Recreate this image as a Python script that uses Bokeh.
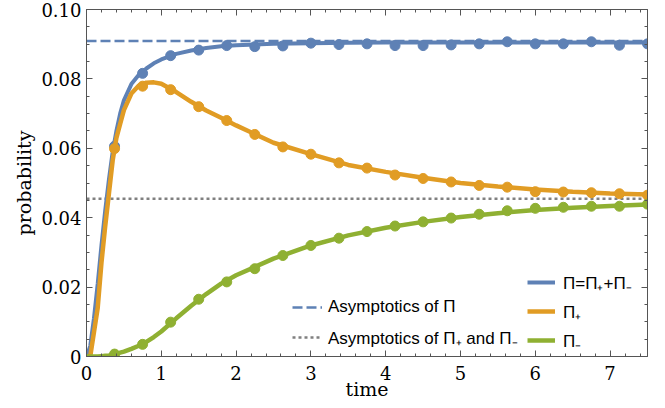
from bokeh.plotting import figure
from bokeh.models import (Range1d, FixedTicker, LinearAxis, Legend, LegendItem)
from bokeh.embed import file_html
from bokeh.resources import INLINE
import numpy as np

# ---- data ----
t_line = [0, 0.05, 0.1, 0.15, 0.2, 0.25, 0.3, 0.35, 0.4, 0.45, 0.5, 0.6, 0.7, 0.8, 0.9, 1.0,
          1.2, 1.4, 1.6, 1.8, 2.0, 2.5, 3.0, 3.5, 4.0, 4.5, 5.0, 5.5, 6.0, 6.5, 7.0, 7.5]
pi_total_line = [0, 0.003, 0.011, 0.021, 0.032, 0.042, 0.051, 0.059, 0.065, 0.070, 0.0738, 0.0785,
                 0.0812, 0.0830, 0.0845, 0.0856, 0.0872, 0.0882, 0.0889, 0.0894, 0.0897, 0.0901,
                 0.0903, 0.0904, 0.0905, 0.0905, 0.0905, 0.0905, 0.0905, 0.0905, 0.0905, 0.0905]
pi_plus_line = [0, 0.0, 0.007, 0.014, 0.027, 0.0375, 0.047, 0.0565, 0.063, 0.067, 0.071, 0.0758,
                0.0781, 0.0789, 0.0790, 0.0786, 0.0762, 0.0734, 0.0709, 0.0688, 0.0666, 0.0616,
                0.0583, 0.0552, 0.0532, 0.0515, 0.0500, 0.0490, 0.0481, 0.0475, 0.0470, 0.0467]
pi_minus_line = [0, 0, 0, 0, 0.0001, 0.0002, 0.0003, 0.0005, 0.0008, 0.0011, 0.0014, 0.0022,
                 0.0031, 0.0042, 0.0056, 0.0072, 0.0110, 0.0146, 0.0180, 0.0210, 0.0234, 0.0282,
                 0.0320, 0.0349, 0.0371, 0.0388, 0.0402, 0.0413, 0.0422, 0.0429, 0.0434, 0.0438]

t_pts = [0.375, 0.75, 1.125, 1.5, 1.875, 2.25, 2.625, 3.0, 3.375, 3.75, 4.125, 4.5, 4.875,
         5.25, 5.625, 6.0, 6.375, 6.75, 7.125, 7.5]
pi_total_pts = [0.0606, 0.0816, 0.0867, 0.0883, 0.0896, 0.0893, 0.0895, 0.0903, 0.0899, 0.0901,
                0.0896, 0.0896, 0.0898, 0.0901, 0.0907, 0.0901, 0.0901, 0.0907, 0.0897, 0.0901]
pi_plus_pts = [0.0599, 0.0779, 0.0769, 0.0720, 0.0680, 0.0640, 0.0604, 0.0583, 0.0558, 0.0543,
               0.0523, 0.0513, 0.0503, 0.0493, 0.0488, 0.0475, 0.0474, 0.0472, 0.0469, 0.0465]
pi_minus_pts = [0.0007, 0.0035, 0.0099, 0.0165, 0.0215, 0.0253, 0.0291, 0.0320, 0.0341, 0.0360,
                0.0376, 0.0388, 0.0399, 0.0410, 0.0420, 0.0427, 0.0430, 0.0433, 0.0433, 0.0439]

asym_total = 0.0909
asym_each = 0.04545
x_span = [0, 7.5]

x_ticks = [0, 1, 2, 3, 4, 5, 6, 7]
y_ticks = [0, 0.02, 0.04, 0.06, 0.08, 0.10]
y_tick_labels = ["0", "0.02", "0.04", "0.06", "0.08", "0.10"]

labels_right = ["\u03a0=\u03a0\u208a+\u03a0\u208b", "\u03a0\u208a", "\u03a0\u208b"]
labels_left = ["Asymptotics of \u03a0", "Asymptotics of \u03a0\u208a and \u03a0\u208b"]

BLUE = "#5E81B5"
ORANGE = "#E19C24"
GREEN = "#8FB032"
GRAY = "#808080"
AX = "#555555"

p = figure(width=655, height=404, output_backend="svg", toolbar_location=None,
           x_range=Range1d(0, 7.5), y_range=Range1d(0, 0.1),
           min_border_left=86, min_border_right=8, min_border_top=9, min_border_bottom=48,
           background_fill_color="white", border_fill_color="white")
p.grid.visible = False
p.outline_line_color = None

xt = FixedTicker(ticks=x_ticks, minor_ticks=list(np.arange(0, 7.51, 0.2)))
yt = FixedTicker(ticks=y_ticks, minor_ticks=list(np.arange(0, 0.1001, 0.005)))

p.xaxis.ticker = xt
p.yaxis.ticker = yt
p.yaxis.major_label_overrides = {v: s for v, s in zip(y_ticks, y_tick_labels)}

for ax in (p.xaxis[0], p.yaxis[0]):
    ax.axis_line_color = AX
    ax.major_tick_line_color = AX
    ax.minor_tick_line_color = AX
    ax.major_tick_in = 6
    ax.major_tick_out = 0
    ax.minor_tick_in = 3
    ax.minor_tick_out = 0
    ax.major_label_text_font = "DejaVu Serif"
    ax.major_label_text_font_size = "18px"
    ax.major_label_text_color = "black"
    ax.axis_label_text_font = "DejaVu Serif"
    ax.axis_label_text_font_size = "19px"
    ax.axis_label_text_font_style = "normal"
    ax.axis_label_text_color = "black"

p.xaxis.major_label_standoff = 9
p.xaxis.axis_label = "time"
p.xaxis.axis_label_standoff = -5
p.yaxis.major_label_standoff = 5
p.yaxis.axis_label = "probability"
p.yaxis.axis_label_standoff = 3

for loc, tk, ticks in (("right", yt, y_ticks), ("above", xt, x_ticks)):
    a = LinearAxis(ticker=tk)
    a.axis_line_color = AX
    a.major_tick_line_color = AX
    a.minor_tick_line_color = AX
    a.major_tick_in = 6
    a.major_tick_out = 0
    a.minor_tick_in = 3
    a.minor_tick_out = 0
    a.major_label_overrides = {v: "" for v in ticks}
    a.major_label_standoff = 0
    p.add_layout(a, loc)

# asymptotes
r_dash = p.line(x_span, [asym_total, asym_total], line_color=BLUE, line_width=2.5, line_dash="10 4")
r_dot = p.line(x_span, [asym_each, asym_each], line_color=GRAY, line_width=2.5, line_dash="3 3")

# curves
r_b = p.line(t_line, pi_total_line, line_color=BLUE, line_width=4)
p.scatter(t_pts, pi_total_pts, size=10, color=BLUE)
r_o = p.line(t_line, pi_plus_line, line_color=ORANGE, line_width=4.5)
p.scatter(t_pts, pi_plus_pts, size=10, color=ORANGE)
r_g = p.line(t_line, pi_minus_line, line_color=GREEN, line_width=4.5)
p.scatter(t_pts, pi_minus_pts, size=10, color=GREEN)

leg1 = Legend(items=[LegendItem(label=labels_left[0], renderers=[r_dash]),
                     LegendItem(label=labels_left[1], renderers=[r_dot])],
              location=(206, 6), orientation="vertical")
leg2 = Legend(items=[LegendItem(label=labels_right[0], renderers=[r_b]),
                     LegendItem(label=labels_right[1], renderers=[r_o]),
                     LegendItem(label=labels_right[2], renderers=[r_g])],
              location=(441, 3), orientation="vertical")
for lg, sp, gw, st in ((leg1, 4, 30, 6), (leg2, 3, 28, 8)):
    lg.padding = 0
    lg.margin = 0
    lg.spacing = sp
    lg.glyph_width = gw
    lg.glyph_height = 26
    lg.label_height = 26
    lg.label_standoff = st
    lg.label_text_font = "Liberation Sans"
    lg.label_text_font_size = "17px"
    lg.label_text_color = "black"
    lg.border_line_color = None
    lg.background_fill_alpha = 0
    p.add_layout(lg)

open("out.html", "w").write(file_html(p, INLINE))
